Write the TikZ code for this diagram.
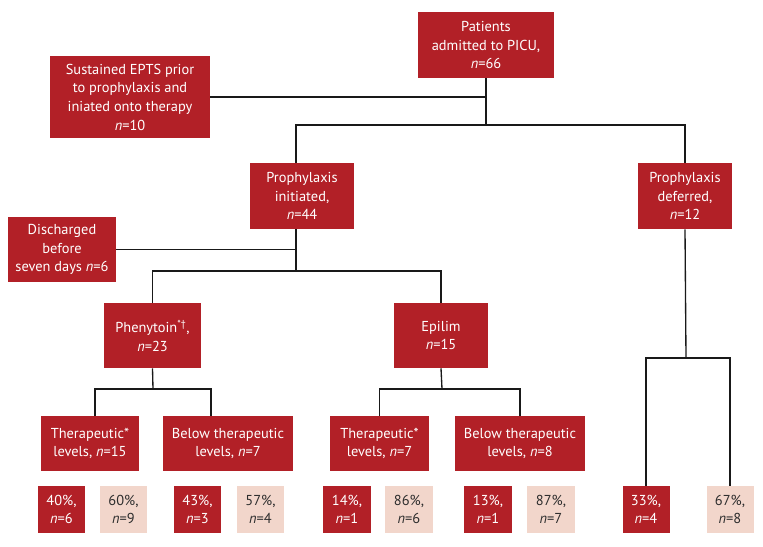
\documentclass[tikz,border=0pt]{standalone}
\usepackage{fontspec}
\setmainfont{PT Sans}
\definecolor{boxred}{RGB}{178,32,39}
\definecolor{boxpink}{RGB}{242,214,203}
\definecolor{pinktext}{RGB}{45,45,45}
\begin{document}
\begin{tikzpicture}[x=0.75pt,y=-0.75pt,
  sz/.style 2 args={minimum width=#1*0.75pt, minimum height=#2*0.75pt},
  box/.style={fill=boxred,text=white,inner sep=0pt,align=center,
    font=\fontsize{10.8}{14}\selectfont},
  lbox/.style={box,fill=boxpink,text=pinktext},
  conn/.style={draw=black!90,line width=1pt}]
\useasboundingbox (0,0) rectangle (763,546);
% nodes
\node[box,sz={136}{66}] (pat) at (486,45) {Patients\\admitted to PICU,\\\textit{n}=66};
\node[box,sz={160}{82}] (epts) at (130,97) {Sustained EPTS prior\\to prophylaxis and\\iniated onto therapy\\\textit{n}=10};
\node[box,sz={104}{66}] (init) at (302,196) {Prophylaxis\\initiated,\\\textit{n}=44};
\node[box,sz={94}{66}] (def) at (685,196) {Prophylaxis\\deferred,\\\textit{n}=12};
\node[box,sz={108}{65}] (dis) at (62,249.5) {Discharged\\before\\seven days \textit{n}=6};
\node[box,sz={97}{65}] (phen) at (152.5,335.5) {Phenytoin\textsuperscript{*†},\\\textit{n}=23};
\node[box,sz={94}{65}] (epi) at (441,335.5) {Epilim\\\textit{n}=15};
\node[box,sz={98}{55}] (t1) at (90,443.5) {Therapeutic*\\levels, \textit{n}=15};
\node[box,sz={130}{55}] (b1) at (228,443.5) {Below therapeutic\\levels, \textit{n}=7};
\node[box,sz={99}{55}] (t2) at (379.5,443.5) {Therapeutic*\\levels, \textit{n}=7};
\node[box,sz={130}{55}] (b2) at (520,443.5) {Below therapeutic\\levels, \textit{n}=8};
\node[box,sz={47}{47}] (p1) at (61.5,509.5) {40\%,\\\textit{n}=6};
\node[lbox,sz={47}{47}] (p2) at (123.5,509.5) {60\%,\\\textit{n}=9};
\node[box,sz={47}{47}] (p3) at (197.5,509.5) {43\%,\\\textit{n}=3};
\node[lbox,sz={47}{47}] (p4) at (260.5,509.5) {57\%,\\\textit{n}=4};
\node[box,sz={48}{47}] (p5) at (347,509.5) {14\%,\\\textit{n}=1};
\node[lbox,sz={48}{47}] (p6) at (409,509.5) {86\%,\\\textit{n}=6};
\node[box,sz={48}{47}] (p7) at (488,509.5) {13\%,\\\textit{n}=1};
\node[lbox,sz={48}{47}] (p8) at (551,509.5) {87\%,\\\textit{n}=7};
\node[box,sz={47}{47}] (p9) at (646,509.5) {33\%,\\\textit{n}=4};
\node[lbox,sz={47}{47}] (p10) at (730,509.5) {67\%,\\\textit{n}=8};
% junctions
\coordinate (j1) at (486,125);
\coordinate (j2) at (296,271);
\coordinate (j3) at (153,389);
\coordinate (j4) at (442,389);
\coordinate (j5) at (686,358);
% connectors
\draw[conn] (pat.south) -- (j1);
\draw[conn] (epts.east) -- (epts.east -| pat.south);
\draw[conn] ([xshift=-4.5pt]init.north) |- (j1) -| (def.north);
\draw[conn] ([xshift=-4.5pt]init.south) -- (j2);
\draw[conn] (dis.east) -- (dis.east -| j2);
\draw[conn] (phen.north) |- (j2) -| (epi.north);
\draw[conn] (phen.south) -- (j3);
\draw[conn] ([xshift=3.75pt]t1.north) |- (j3) -| ([xshift=-12.75pt]b1.north);
\draw[conn] (epi.south) -- (j4);
\draw[conn] (t2.north) |- (j4) -| (b2.north);
\draw[conn] (def.south) -- (j5);
\draw[conn] (p9.north) |- (j5) -| (p10.north);
\end{tikzpicture}
\end{document}
